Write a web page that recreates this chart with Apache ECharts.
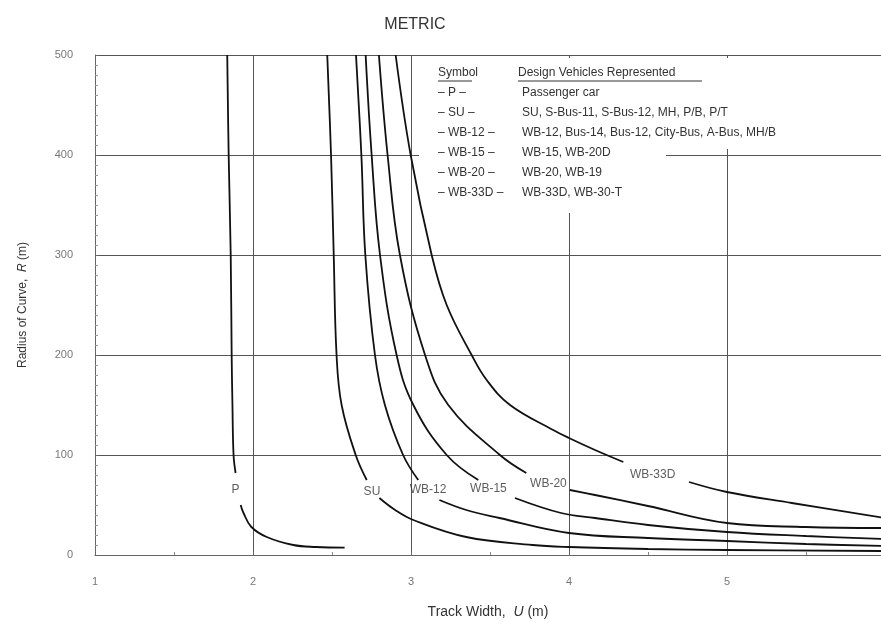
<!DOCTYPE html>
<html>
<head>
<meta charset="utf-8">
<script src="https://cdn.jsdelivr.net/npm/echarts@6/dist/echarts.min.js"></script>
<style>
  html, body { margin: 0; padding: 0; background: #fff; }
  #chart { width: 881px; height: 626px; }
</style>
</head>
<body>
<div id="chart"></div>
<script>
// curves: [track width U (m), radius R (m)]
// each curve is broken where its label sits, so upper / lower pieces
const pUpper = [[1.837, 500], [1.846, 400], [1.859, 300], [1.865, 200], [1.870, 150], [1.877, 100], [1.89, 82]];
const pLower = [[1.922, 50], [1.94, 42], [1.99, 28], [2.087, 18], [2.255, 10], [2.4, 8], [2.58, 7.3]];
const suUpper = [[2.470, 500], [2.494, 400], [2.511, 300], [2.529, 200], [2.561, 150], [2.65, 100], [2.72, 75]];
const suLower = [[2.80, 57], [2.9, 45], [3.015, 35], [3.35, 18], [3.77, 10], [4.0, 8], [4.5, 6], [5.0, 5], [6.0, 4]];
const wb12Upper = [[2.652, 500], [2.686, 400], [2.711, 300], [2.772, 200], [2.835, 150], [2.95, 100], [3.046, 75]];
const wb12Lower = [[3.18, 55], [3.35, 45], [3.56, 37], [4.0, 22], [4.5, 17], [5.0, 14], [5.5, 11], [6.0, 9]];
const wb15Upper = [[2.713, 500], [2.751, 400], [2.804, 300], [2.909, 200], [3.015, 150], [3.226, 100], [3.426, 75]];
const wb15Lower = [[3.658, 57], [3.95, 42], [4.165, 37], [4.5, 30], [5.0, 23], [5.5, 19], [6.0, 16]];
const wb20Upper = [[2.797, 500], [2.852, 400], [2.930, 300], [3.089, 200], [3.236, 150], [3.563, 100], [3.73, 82]];
const wb20Lower = [[4.006, 65], [4.165, 60], [4.5, 49], [5.0, 32], [5.5, 28], [6.0, 27]];
const wb33Upper = [[2.903, 500], [2.998, 400], [3.131, 300], [3.226, 250], [3.384, 200], [3.479, 175], [3.627, 150],
  [3.9, 125], [4.0, 117], [4.165, 105], [4.344, 93]];
const wb33Lower = [[4.76, 73], [5.0, 63], [5.41, 52], [6.0, 37]];

// curve labels [U, R, text]
const curveLabels = [[1.89, 65, 'P'], [2.753, 63, 'SU'], [3.108, 65, 'WB-12'], [3.49, 66, 'WB-15'],
  [3.87, 71, 'WB-20'], [4.53, 80, 'WB-33D']];

// legend table
const symbols = ['– P –', '– SU –', '– WB-12 –', '– WB-15 –', '– WB-20 –', '– WB-33D –'];
const vehicles = ['Passenger car', 'SU, S-Bus-11, S-Bus-12, MH, P/B, P/T',
  'WB-12, Bus-14, Bus-12, City-Bus, A-Bus, MH/B', 'WB-15, WB-20D', 'WB-20, WB-19', 'WB-33D, WB-30-T'];

// x runs 1..6 but the picture is cut just short of 6
const xMin = 1, xMax = 5.975, yMin = 0, yMax = 500;

const font = '"Liberation Sans", Arial, sans-serif';
const chart = echarts.init(document.getElementById('chart'));

const pieces = [pUpper, pLower, suUpper, suLower, wb12Upper, wb12Lower,
  wb15Upper, wb15Lower, wb20Upper, wb20Lower, wb33Upper, wb33Lower];

const series = pieces.map(function (d) {
  return {
    type: 'line',
    data: d,
    smooth: 0.4,
    showSymbol: false,
    silent: true,
    z: 3,
    lineStyle: { color: '#111', width: 1.8 }
  };
});
series.push({
  type: 'scatter',
  data: curveLabels,
  symbolSize: 0,
  silent: true,
  z: 4,
  label: {
    show: true,
    position: 'inside',
    formatter: function (p) { return p.value[2]; },
    color: '#333',
    fontSize: 12,
    fontFamily: font
  }
});

// legend table drawn as graphic text
const legendX = 438, descX = 522, rowTop = 93, rowStep = 20;
const graphics = [
  // white patches that hide the grid behind the table (kept under the curves)
  { type: 'rect', z: 1, shape: { x: 420, y: 58, width: 395, height: 91 }, style: { fill: '#fff' } },
  { type: 'rect', z: 1, shape: { x: 419, y: 58, width: 247, height: 155 }, style: { fill: '#fff' } },
  { type: 'text', z: 11, x: legendX, y: 73, style: { text: 'Symbol', fill: '#333', font: '12px ' + font, verticalAlign: 'middle' } },
  { type: 'line', z: 11, shape: { x1: legendX, y1: 81, x2: legendX + 34, y2: 81 }, style: { stroke: '#333', lineWidth: 1 } },
  { type: 'text', z: 11, x: descX - 4, y: 73, style: { text: 'Design Vehicles Represented', fill: '#333', font: '12px ' + font, verticalAlign: 'middle' } },
  { type: 'line', z: 11, shape: { x1: descX - 4, y1: 81, x2: descX + 180, y2: 81 }, style: { stroke: '#333', lineWidth: 1 } }
];
symbols.forEach(function (s, i) {
  graphics.push({ type: 'text', z: 11, x: legendX, y: rowTop + i * rowStep,
    style: { text: s, fill: '#333', font: '12px ' + font, verticalAlign: 'middle' } });
  graphics.push({ type: 'text', z: 11, x: descX, y: rowTop + i * rowStep,
    style: { text: vehicles[i], fill: '#333', font: '12px ' + font, verticalAlign: 'middle' } });
});

chart.setOption({
  animation: false,
  backgroundColor: '#fff',
  title: {
    text: 'METRIC',
    left: 410,
    top: 12,
    textAlign: 'center',
    textStyle: { fontSize: 16, fontWeight: 'normal', color: '#333', fontFamily: font }
  },
  grid: { left: 95, right: 0, top: 55, bottom: 71 },
  xAxis: {
    type: 'value',
    min: xMin,
    max: xMax,
    interval: 1,
    name: 'Track Width,  {i|U} (m)',
    nameLocation: 'middle',
    nameGap: 50,
    nameTextStyle: {
      fontSize: 14, color: '#333', fontFamily: font,
      rich: { i: { fontStyle: 'italic', fontSize: 14, color: '#333', fontFamily: font } }
    },
    axisLine: { lineStyle: { color: '#666', width: 1 } },
    axisTick: { show: true, inside: true, length: 4, lineStyle: { color: '#666' } },
    minorTick: { show: true, splitNumber: 2, length: 3, lineStyle: { color: '#888' } },
    axisLabel: { margin: 21, color: '#777', fontSize: 11, fontFamily: font,
      showMaxLabel: false },
    splitLine: { show: true, lineStyle: { color: '#555', width: 1 } }
  },
  yAxis: {
    type: 'value',
    min: yMin,
    max: yMax,
    interval: 100,
    name: 'Radius of Curve,  {i|R} (m)',
    nameLocation: 'middle',
    nameGap: 66,
    nameTextStyle: {
      fontSize: 12, color: '#333', fontFamily: font,
      rich: { i: { fontStyle: 'italic', fontSize: 12, color: '#333', fontFamily: font } }
    },
    axisLine: { show: true, lineStyle: { color: '#666', width: 1 } },
    axisTick: { show: true, inside: true, length: 4, lineStyle: { color: '#666' } },
    minorTick: { show: true, splitNumber: 10, length: 3, lineStyle: { color: '#999' } },
    axisLabel: { margin: 22, color: '#777', fontSize: 11, fontFamily: font },
    splitLine: { show: true, lineStyle: { color: '#555', width: 1 } }
  },
  graphic: graphics,
  series: series
});
</script>
</body>
</html>
